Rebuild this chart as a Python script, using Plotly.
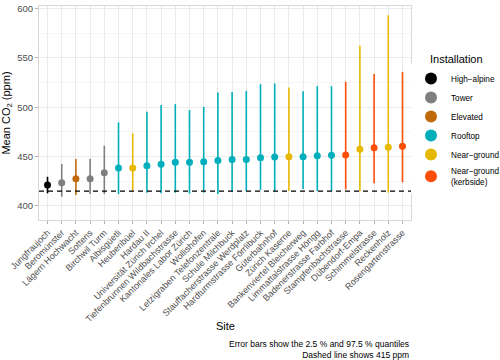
import plotly.graph_objects as go

# Site data, ordered by mean CO2
sites = ["Jungfraujoch", "Beromünster", "Lägern Hochwacht", "Sottens", "Birchwil Turm",
         "Albisgüetli", "Heuberibüel", "Hardau II", "Universität Zürich Irchel",
         "Tiefenbrunnen Wildbachstrasse", "Kantonales Labor Zürich", "Wollishofen",
         "Letzigraben Telefonzentrale", "Schule Milchbuck", "Stauffacherstrasse Werdplatz",
         "Hardturmstrasse Förrlibuck", "Güterbahnhof", "Zürich Kaserne",
         "Bankenviertel Bleicherweg", "Limmattalstrasse Höngg", "Badenerstrasse Farbhof",
         "Stampfenbachstrasse", "Dübendorf-Empa", "Schimmelstrasse", "Reckenholz",
         "Rosengartenstrasse"]
installation = ["High-alpine", "Tower", "Elevated", "Tower", "Tower",
                "Rooftop", "Near-ground", "Rooftop", "Rooftop",
                "Rooftop", "Rooftop", "Rooftop",
                "Rooftop", "Rooftop", "Rooftop",
                "Rooftop", "Rooftop", "Near-ground",
                "Rooftop", "Rooftop", "Rooftop",
                "Near-ground (kerbside)", "Near-ground", "Near-ground (kerbside)", "Near-ground",
                "Near-ground (kerbside)"]
mean_co2 = [421.2, 423.6, 427.6, 427.6, 433.7, 438.4, 438.4, 440.8, 442.2, 444.2, 444.4,
            444.8, 446.2, 447.2, 447.2, 448.9, 449.6, 449.9, 449.9, 450.9, 451.3,
            451.6, 457.6, 458.9, 459.6, 460.6]
q025 = [412.8, 409.4, 411.1, 412.1, 412.1, 412.1, 414.5, 413.5, 412.8, 413.5, 412.5,
        413.5, 412.1, 414.5, 415.2, 416.2, 414.5, 415.2, 417.2, 415.2, 415.2,
        416.8, 414.8, 423.0, 413.5, 424.0]
q975 = [429.6, 442.5, 447.5, 447.9, 461.0, 484.7, 473.5, 495.4, 502.2, 503.2, 497.1,
        500.5, 515.0, 515.6, 516.6, 523.4, 524.1, 520.1, 516.3, 521.4, 521.4,
        525.9, 562.3, 533.7, 593.3, 535.9]
reference_ppm = 415

groups = ["High-alpine", "Tower", "Elevated", "Rooftop", "Near-ground", "Near-ground (kerbside)"]
group_labels = ["High\u2212alpine", "Tower", "Elevated", "Rooftop", "Near\u2212ground",
                "Near\u2212ground<br>(kerbside)"]
group_colors = ["#000000", "#7F7F7F", "#C06A0A", "#00AFBB", "#E7B800", "#FC4E07"]

fig = go.Figure()

for g, label, col in zip(groups, group_labels, group_colors):
    idx = [i for i, inst in enumerate(installation) if inst == g]
    fig.add_trace(go.Scatter(
        x=[sites[i] for i in idx],
        y=[mean_co2[i] for i in idx],
        mode="markers",
        name=label,
        marker=dict(color=col, size=7),
        error_y=dict(
            type="data", symmetric=False,
            array=[q975[i] - mean_co2[i] for i in idx],
            arrayminus=[mean_co2[i] - q025[i] for i in idx],
            color=col, thickness=1.6, width=0,
        ),
    ))

fig.add_hline(y=reference_ppm, line=dict(color="black", width=1.3, dash="5px,4px"))

font = "Liberation Sans, Arial, sans-serif"
fig.update_layout(
    width=500, height=360,
    margin=dict(l=39, r=89, t=6, b=140, autoexpand=False),
    plot_bgcolor="white", paper_bgcolor="white",
    font=dict(family=font, size=9, color="#4D4D4D"),
    legend=dict(
        x=1.0, xanchor="left", y=0.729, yanchor="top",
        font=dict(size=8.2, color="black"),
        tracegroupgap=0, itemsizing="constant",
    ),
    annotations=[
        dict(text="Installation", xref="paper", yref="paper", x=1.046, y=0.752,
             xanchor="left", yanchor="middle", showarrow=False,
             font=dict(size=11, color="black")),
        dict(text="Site", xref="paper", yref="paper", x=0.5, y=-0.495,
             xanchor="center", yanchor="middle", showarrow=False,
             font=dict(size=11, color="black")),
        dict(text="Error bars show the 2.5 % and 97.5 % quantiles<br>Dashed line shows 415 ppm",
             xref="paper", yref="paper", x=1.0, y=-0.545,
             xanchor="right", yanchor="top", align="right", showarrow=False,
             font=dict(size=8.5, color="black")),
    ],
)

fig.update_xaxes(
    categoryorder="array", categoryarray=sites,
    range=[-0.6, len(sites) - 0.4],
    tickangle=-45, tickfont=dict(size=9, color="#4D4D4D"),
    showgrid=True, gridcolor="#EBEBEB", gridwidth=1,
    showline=True, linecolor="#D9D9D9", mirror=True,
    ticks="outside", ticklen=3, tickcolor="#B3B3B3",
    zeroline=False, automargin=False,
)
fig.update_yaxes(
    title=dict(text="Mean CO<sub>2</sub> (ppm)", font=dict(size=11, color="black"), standoff=6),
    range=[385.8, 602.6], tickvals=[400, 450, 500, 550, 600],
    tickfont=dict(size=9.5, color="#4D4D4D"),
    showgrid=True, gridcolor="#EBEBEB", gridwidth=1,
    minor=dict(tickvals=[425, 475, 525, 575], showgrid=True, gridcolor="#F5F5F5", gridwidth=1),
    showline=True, linecolor="#D9D9D9", mirror=True,
    ticks="outside", ticklen=3, tickcolor="#B3B3B3",
    zeroline=False, automargin=False,
)

# drop the default page margin so the figure sits at the window's top-left corner
fig.write_html("out.html", config={"displayModeBar": False},
               post_script="document.body.style.margin='0';")
